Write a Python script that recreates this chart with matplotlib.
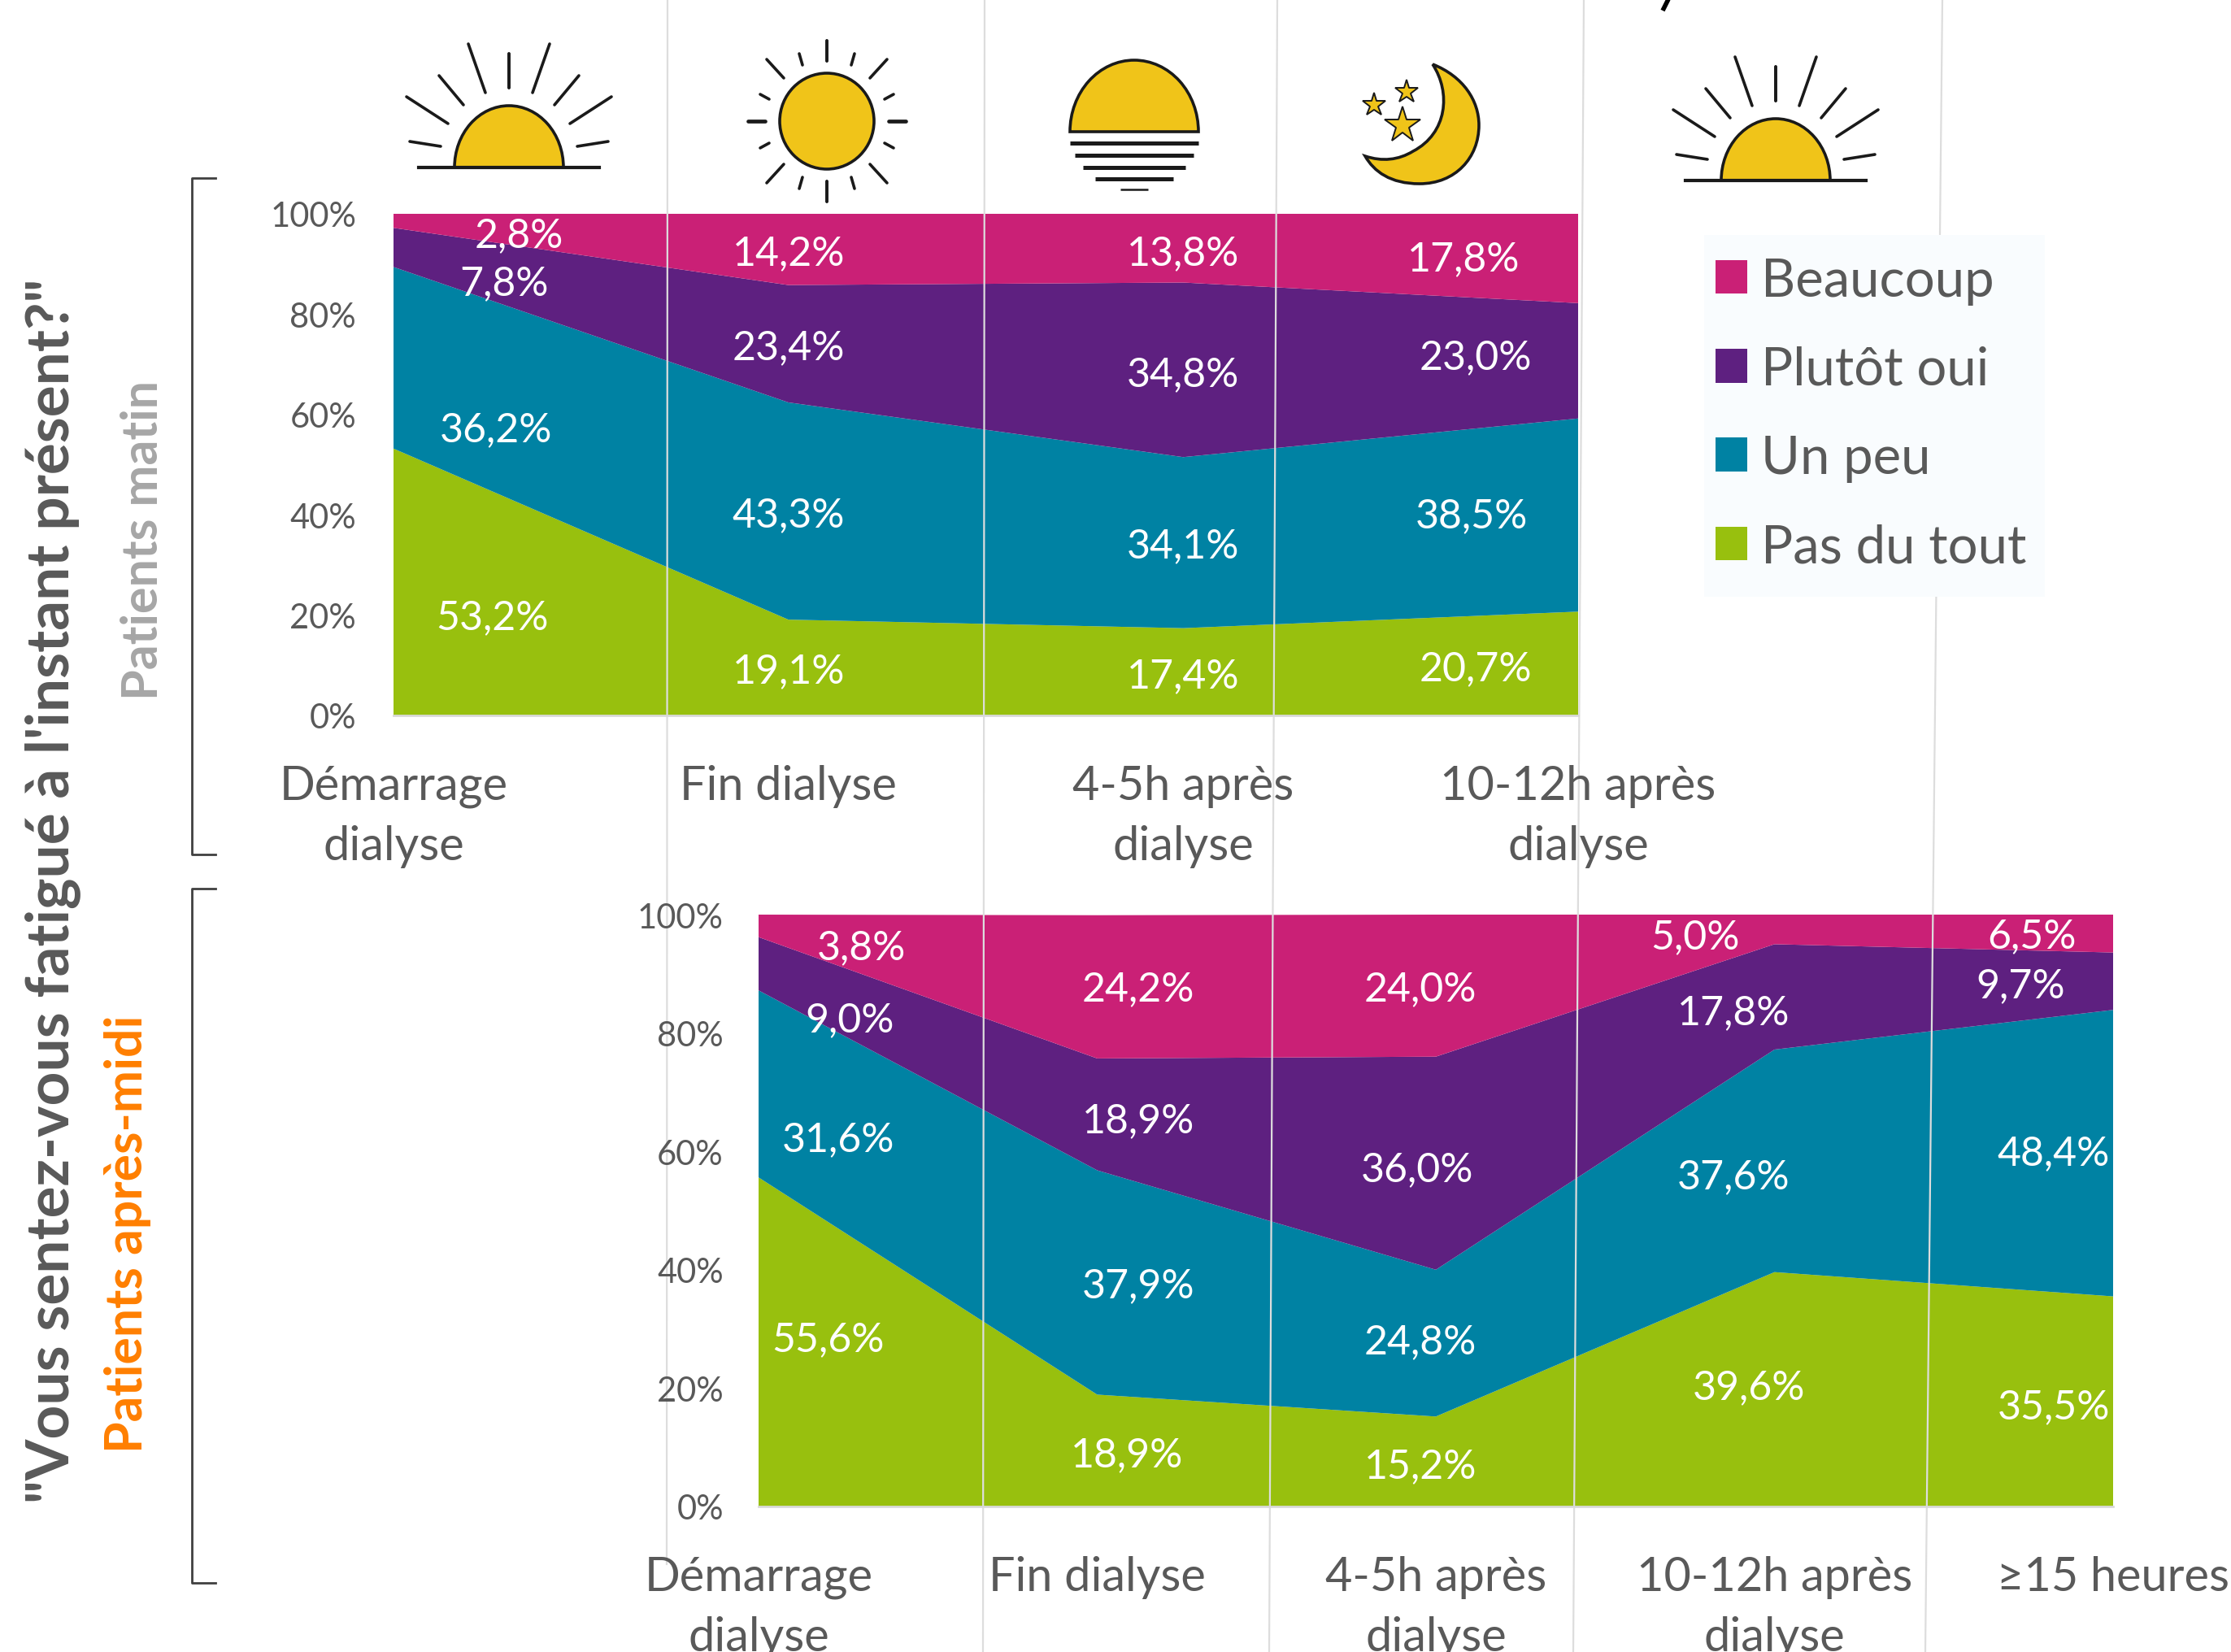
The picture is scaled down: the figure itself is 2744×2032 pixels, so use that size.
import matplotlib
matplotlib.use("Agg")
import matplotlib.pyplot as plt
import numpy as np
from matplotlib.patches import Patch, PathPatch, Ellipse, Wedge
from matplotlib.path import Path
from matplotlib.transforms import Affine2D

plt.rcParams['font.family'] = ['Lato', 'DejaVu Sans']

# data
morningCats = ["Démarrage\ndialyse", "Fin dialyse", "4-5h après\ndialyse", "10-12h après\ndialyse"]
morningPasDuTout = [53.2, 19.1, 17.4, 20.7]
morningUnPeu = [36.2, 43.3, 34.1, 38.5]
morningPlutotOui = [7.8, 23.4, 34.8, 23.0]
morningBeaucoup = [2.8, 14.2, 13.8, 17.8]

afternoonCats = ["Démarrage\ndialyse", "Fin dialyse", "4-5h après\ndialyse", "10-12h après\ndialyse", "≥15 heures"]
afternoonPasDuTout = [55.6, 18.9, 15.2, 39.6, 35.5]
afternoonUnPeu = [31.6, 37.9, 24.8, 37.6, 48.4]
afternoonPlutotOui = [9.0, 18.9, 36.0, 17.8, 9.7]
afternoonBeaucoup = [3.8, 24.2, 24.0, 5.0, 6.5]

seriesNames = ["Pas du tout", "Un peu", "Plutôt oui", "Beaucoup"]
seriesColors = ["#98C00E", "#0082A3", "#5E2080", "#CA2076"]
yTicks = [0, 20, 40, 60, 80, 100]
grey = "#595959"

# where the value labels sit (category units, percent), one row per series
morningLabelX = [[0.25, 1, 2, 2.74], [0.26, 1, 2, 2.73], [0.28, 1, 2, 2.74], [0.317, 1, 2, 2.71]]
morningLabelY = [[19.8, 9.1, 8.2, 9.6], [57.2, 40.2, 34.0, 40.0], [86.4, 73.6, 68.3, 71.6], [96.0, 92.4, 92.4, 91.3]]
afternoonLabelX = [[0.206, 1.088, 1.954, 2.924, 3.824], [0.235, 1.122, 1.954, 2.878, 3.824],
                   [0.269, 1.122, 1.945, 2.878, 3.727], [0.303, 1.122, 1.954, 2.765, 3.761]]
afternoonLabelY = [[28.4, 8.9, 7.0, 20.4, 17.1], [62.3, 37.5, 28.1, 56.0, 59.9],
                   [82.5, 65.4, 57.2, 83.7, 88.2], [94.7, 87.7, 87.7, 96.4, 96.6]]

W, H = 2744, 2033
fig = plt.figure(figsize=(W / 100, H / 100), dpi=100, facecolor="white")

# slide grid lines, they sit behind the tick text but over the coloured areas
gridLines = [(821, 820, 1925), (1211, 1209, H), (1571, 1561, H), (1948, 1935, H), (2389, 2368, H)]
back = fig.add_axes([0, 0, 1, 1], zorder=0)
back.set_xlim(0, W)
back.set_ylim(H, 0)
back.axis("off")


def addAxes(left, top, right, bottom):
    ax = fig.add_axes([left / W, 1 - bottom / H, (right - left) / W, (bottom - top) / H], zorder=1)
    ax.patch.set_alpha(0)
    return ax


def drawChart(ax, cats, series, labelX, labelY, tickPad):
    x = np.arange(len(cats))
    ax.stackplot(x, *series, colors=seriesColors, edgecolor="none")
    ax.set_xlim(0, len(cats) - 1)
    ax.set_ylim(0, 100)
    ax.set_xticks(x)
    ax.set_xticklabels(cats, fontsize=41.5, color=grey, linespacing=1.5)
    ax.set_yticks(yTicks)
    ax.set_yticklabels([str(t) + "%" for t in yTicks], fontsize=30, color=grey)
    ax.tick_params(axis="x", length=0, pad=43)
    ax.tick_params(axis="y", length=0, pad=tickPad)
    for name in ["top", "left", "right"]:
        ax.spines[name].set_visible(False)
    ax.spines["bottom"].set_color("#D9D9D9")
    ax.spines["bottom"].set_linewidth(2)
    for s, vals in enumerate(series):
        for i, v in enumerate(vals):
            txt = ("%.1f%%" % v).replace(".", ",")
            ax.annotate(txt, (labelX[s][i], labelY[s][i]), xytext=(0, -1), textcoords="offset points",
                        color="white", fontsize=36, ha="center", va="center", zorder=4)


axTop = addAxes(484, 264, 1941, 881)
drawChart(axTop, morningCats, [morningPasDuTout, morningUnPeu, morningPlutotOui, morningBeaucoup],
          morningLabelX, morningLabelY, 33)

axBot = addAxes(933, 1126, 2599, 1854)
drawChart(axBot, afternoonCats, [afternoonPasDuTout, afternoonUnPeu, afternoonPlutotOui, afternoonBeaucoup],
          afternoonLabelX, afternoonLabelY, 31)

for ax in [back, axTop, axBot]:
    for x0, x1, y1 in gridLines:
        ax.plot([x0, x1], [0, y1], color="#DDDDDD", lw=1.6, zorder=2, transform=back.transData)

# overlay in picture pixels for the slide furniture
over = fig.add_axes([0, 0, 1, 1], zorder=5)
over.set_xlim(0, W)
over.set_ylim(H, 0)
over.axis("off")
over.patch.set_alpha(0)

# cropped descender of the title cut off at the top
over.plot([2052, 2045], [0, 14], color="black", lw=4, solid_capstyle="butt", zorder=2)

# brackets
for top, bottom in [(220, 1052), (1094, 1948)]:
    over.plot([265, 236, 236, 265], [top, top, bottom, bottom], color="#404040", lw=2, zorder=2)

# rotated titles
over.text(65, 1096, "\"Vous sentez-vous fatigué à l'instant présent?\"", rotation=90, color=grey,
          fontsize=52.5, fontweight="bold", ha="center", va="center")
over.text(176, 665, "Patients matin", rotation=90, color="#A6A6A6", fontsize=44, fontweight="bold",
          ha="center", va="center")
over.text(157, 1518, "Patients après-midi", rotation=90, color="#FF7F00", fontsize=45, fontweight="bold",
          ha="center", va="center")

# icons
sunYellow = "#F0C419"
ink = "#1A1A1A"


def drawRays(cx, cy, rays, lw=2.6):
    for x0, y0, x1, y1 in rays:
        for sign in [-1, 1]:
            over.plot([cx + sign * x0, cx + sign * x1], [cy + y0, cy + y1], color=ink, lw=lw,
                      solid_capstyle="round", zorder=3)


def drawHalfSun(cx, base, rx, ry):
    over.add_patch(Wedge((0, 0), 1, 180, 360, transform=Affine2D().scale(rx, ry).translate(cx, base) + over.transData,
                         facecolor=sunYellow, edgecolor=ink, lw=2.6, zorder=3))


def drawRisingSun(cx, base):
    drawHalfSun(cx, base, 67, 76)
    over.plot([cx - 111, cx + 111], [base, base], color=ink, lw=3, zorder=3)
    drawRays(cx, base, [(-126, -87, -75, -54), (-86, -113, -56, -77), (-50, -152, -29, -92),
                        (0, -140, 0, -98), (-122, -32, -84, -26)])


drawRisingSun(626, 207)
drawRisingSun(2184, 223)

# midday sun
over.add_patch(Ellipse((1017, 150), 116, 118, facecolor=sunYellow, edgecolor=ink, lw=2.6, zorder=3))
for sign in [-1, 1]:
    drawRays(1017, 150, [(-74, sign * 76, -53, sign * 53), (-34, sign * 83, -30, sign * 69),
                         (-82, sign * 33, -71, sign * 27), (0, sign * 99, 0, sign * 74)])
drawRays(1017, 150, [(-97, 0, -76, 0)], lw=3.4)

# setting sun
drawHalfSun(1395, 163, 79, 88)
for y, halfW, lw in [(177, 79, 3.6), (192, 73, 3.6), (207, 63, 3.6), (221, 48, 3.6), (234, 17, 1.8)]:
    over.plot([1395 - halfW, 1395 + halfW], [y, y], color=ink, lw=lw, solid_capstyle="butt", zorder=3)

# moon and stars
moonVerts = [(1762, 80), (1800, 95), (1819, 125), (1819, 155), (1819, 195), (1790, 227), (1746, 227),
             (1710, 227), (1690, 212), (1679, 193), (1700, 200), (1720, 198), (1738, 187),
             (1780, 165), (1785, 115), (1762, 80)]
moonCodes = [Path.MOVETO] + [Path.CURVE4] * 15
over.add_patch(PathPatch(Path(moonVerts, moonCodes), facecolor=sunYellow, edgecolor=ink, lw=2.6, zorder=3))
for sx, sy, size in [(1690, 130, 21), (1730, 114, 21), (1725, 155, 33)]:
    over.plot([sx], [sy], marker="*", ms=size, mfc=sunYellow, mec=ink, mew=1.4, zorder=3)

# legend
over.add_patch(plt.Rectangle((2096, 290), 419, 445, facecolor="#F9FCFE", edgecolor="none", zorder=4))
handles = [Patch(facecolor=c, edgecolor="none") for c in seriesColors[::-1]]
leg = over.legend(handles, seriesNames[::-1], loc="upper left", bbox_to_anchor=(2077 / W, 1 - 284 / H),
                  bbox_transform=fig.transFigure, frameon=False, fontsize=47, labelcolor=grey,
                  handlelength=0.6, handleheight=0.6, handletextpad=0.26, labelspacing=0.77,
                  borderpad=0.5, borderaxespad=0)
leg.set_zorder(6)

fig.savefig("out.png", dpi=100)
